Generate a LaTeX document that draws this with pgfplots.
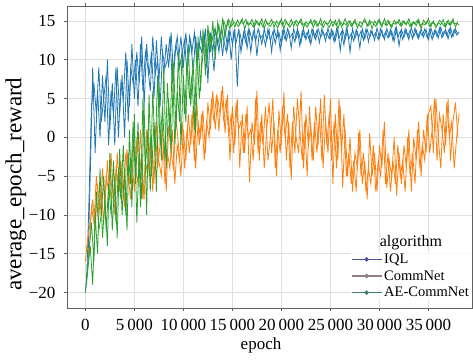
\documentclass[border=0pt]{standalone}
\usepackage{fontspec}
\setmainfont{Liberation Serif}
\usepackage{pgfplots}
\pgfplotsset{compat=1.18}
\usepackage{pgfplotstable}
\definecolor{cIQL}{HTML}{1F77B4}
\definecolor{cComm}{HTML}{FF7F0E}
\definecolor{cAE}{HTML}{2CA02C}
\definecolor{lIQL}{HTML}{4B4F9C}
\definecolor{lComm}{HTML}{8E7F86}
\definecolor{lAE}{HTML}{3F8062}

% rewards read every 250 epochs (A: epoch = 250 i, B: epoch = 250 i + 125)
\pgfplotstableread[row sep=\\]{
y\\
-20\\ -17\\ -5\\ 9\\ -2\\ 6\\ 0\\ 8\\ 2\\ 10\\ 1\\ 7\\ -1\\ 9\\ 3\\ 8\\ 0\\ 10\\ 4\\
12\\ 5\\ 11\\ 7\\ 13\\ 4\\ 12\\ 8\\ 11\\ 5\\ 12.5\\ 7\\ 13\\ 8\\
12\\ 9\\ 13.5\\ 8\\ 12\\ 10\\ 13\\ 9\\ 13.5\\ 10\\ 12.5\\ 8.5\\ 13\\ 10\\ 13.5\\
11\\ 14\\ 7\\ 13.5\\ 11\\ 14\\ 12\\ 13.5\\ 10.5\\ 14\\ 11.5\\ 13.8\\ 12\\ 14\\ 6.5\\ 13.5\\
12\\ 14\\ 11.5\\ 13.8\\ 12.5\\ 14\\ 10.5\\ 13.5\\ 12\\ 14\\ 12.5\\ 13.8\\ 11\\ 14\\ 12.8\\ 13.5\\ 12\\ 14\\ 12.5\\ 13.7\\ 11.5\\ 14\\ 12.8\\ 13.6\\ 12.2\\ 14\\ 12.6\\ 13.8\\ 12\\
13.8\\ 12.6\\ 14\\ 12.9\\ 13.6\\ 12.4\\ 14.1\\ 12.8\\ 13.7\\ 12.5\\
14\\ 11.2\\ 13.9\\ 12.6\\ 13.8\\ 11\\ 14\\ 12.8\\ 13.6\\ 11.5\\
14\\ 12.7\\ 13.9\\ 12.9\\ 13.7\\ 12.5\\ 14.1\\ 12.8\\ 13.8\\ 12.6\\
14\\ 13\\ 13.7\\ 12.4\\ 14.1\\ 11.8\\ 13.9\\ 12.9\\ 13.8\\ 12.6\\
14.2\\ 13\\ 13.8\\ 12.7\\ 14\\ 12.9\\ 13.9\\ 12.6\\ 14.1\\ 13\\
13.8\\ 12.8\\ 14.2\\ 13.1\\ 13.9\\ 12.7\\ 14.1\\ 13\\ 14\\ 13.2\\
}\iqlA
\pgfplotstableread[row sep=\\]{
y\\
-19\\ -8\\ 4\\ 7\\ 3\\ 9\\ 2\\ 5\\ 8\\ -1\\ 6\\ 3\\ 9\\ 0\\ 7\\ 5\\ 11\\ 2\\ 9\\
7\\ 10\\ 4\\ 12\\ 6\\ 11\\ 9\\ 6\\ 13\\ 8\\ 10\\ 4\\ 11\\ 9\\
10\\ 13\\ 7\\ 11\\ 13\\ 9\\ 11\\ 12.5\\ 8\\ 13\\ 11\\ 13.5\\ 9.5\\ 12\\ 11\\
13.5\\ 9\\ 13\\ 12\\ 8.5\\ 13.5\\ 11\\ 14\\ 12.5\\ 11\\ 13.8\\ 10\\ 13.5\\ 12.2\\ 13.8\\ 11\\
13.5\\ 12.2\\ 13.9\\ 11\\ 13.6\\ 12.4\\ 14\\ 12.8\\ 13.2\\ 11.8\\ 14\\ 12.4\\ 13.6\\ 12.1\\ 13.9\\ 11.2\\ 13.7\\ 12.6\\ 14\\ 12.9\\ 13.4\\ 12.3\\ 14\\ 11.8\\ 13.7\\ 12.9\\ 13.5\\ 12.4\\ 14\\
12.9\\ 13.8\\ 12.2\\ 14\\ 13.1\\ 13.5\\ 12.7\\ 13.9\\ 12.3\\ 14\\
12.8\\ 13.6\\ 11.9\\ 14.1\\ 12.7\\ 13.4\\ 12.4\\ 13.9\\ 12.9\\ 13.7\\
12.5\\ 14\\ 12.3\\ 13.8\\ 13\\ 13.5\\ 12.6\\ 14\\ 12.9\\ 13.6\\
12.8\\ 13.9\\ 12.5\\ 14.1\\ 12.9\\ 13.7\\ 12.6\\ 14\\ 13\\ 13.8\\
12.7\\ 14.1\\ 12.9\\ 13.6\\ 13.1\\ 14\\ 12.8\\ 13.9\\ 12.6\\ 13.8\\
13\\ 14.1\\ 12.8\\ 13.7\\ 13.1\\ 14\\ 12.9\\ 13.9\\ 13.2\\ 13.6\\
}\iqlB

\pgfplotstableread[row sep=\\]{
y\\
-16\\ -13\\ -11\\ -8\\ -12\\ -6\\ -10\\ -4\\ -9\\ -3\\ -8\\ -5\\ -10\\ -2\\ -7\\ -4\\ -9\\ -1.5\\ -6\\
-3\\ -7\\ 0\\ -5\\ -2\\ -8\\ 1\\ -4\\ -1\\ -6\\ 2\\ -3\\ -5\\ 0\\ -7\\ 1.5\\ -2\\ -4\\ 2.5\\ -1\\ -5\\ 1\\
-3\\ 3\\ -1\\ 4\\ -4\\ 2\\ 0\\ 3.5\\ -2\\ 4.5\\ 1\\
6\\ 1\\ 5\\ 3\\ 6.6\\ 0.5\\
5.5\\ -3\\ 4\\ -1\\ 5\\ -4\\ 3\\
-2\\ 4\\ -5.8\\ 2\\ -1\\ 6\\ -3\\ 3\\ -4\\ 1\\ 4.5\\ -2\\ 2\\ -5\\ 3.5\\ -1\\ 5.8\\ -3\\ 2\\ -5.5\\ 4\\ 0\\ -2\\ 6\\ -4\\ 3\\ -1\\ 1.5\\
-3\\ 4\\ -1\\ 5\\ -4\\ 2\\ -2\\ 5\\
-6\\ 3\\ -3\\ 4\\ -6.5\\ 1\\
-5\\ 0\\ -7\\ -2\\ -4\\ 1\\ -6\\ -3\\ -8\\ 0.5\\ -5\\ -2\\ -7\\ -1\\ -4\\ 2\\ -6.5\\ -3\\ -5\\ 0\\ -7.5\\ -2\\
-6\\ -1\\ -4\\ 1\\ -7\\ 0\\ -3\\ 2\\ -5\\ 1\\ -2\\ 3\\
4\\ -2\\ 5\\ 0\\ -4\\ 3\\ -1\\ 5\\ -3\\ 2\\ 4.5\\ 0\\
}\commA
\pgfplotstableread[row sep=\\]{
y\\
-14\\ -15\\ -9\\ -11\\ -5\\ -9\\ -7\\ -11\\ -5\\ -7\\ -2\\ -9\\ -4\\ -6\\ -3\\ -8\\ -2\\ -5\\ -8\\
0\\ -4\\ -6\\ 1\\ -8\\ -3\\ -5\\ 0\\ -7\\ 1.5\\ -4\\ -1\\ 1\\ -6\\ -2\\ -4\\ 1\\ -6\\ -1\\ -3\\ 2\\ -4\\
1\\ -2\\ 3\\ -3\\ 4.5\\ -1\\ 3\\ -3\\ 2\\ 0\\ 5\\
2\\ 5.5\\ 0.8\\ 6\\ 2\\ 5\\
0\\ 3\\ -2\\ 4.5\\ 1\\ 2\\ -2\\
3\\ 0\\ 1\\ -3\\ 5\\ -2\\ 2\\ -1\\ 4\\ -3\\ 0\\ 5\\ -4\\ 1\\ -2\\ 4\\ 0\\ 3\\ -4\\ 2\\ -2\\ 5\\ 1\\ -3\\ 2\\ -5\\ 4\\ -3\\
2\\ -2\\ 3\\ -3\\ 5.5\\ -1\\ 3\\ -3\\
2\\ -4\\ 5\\ -2\\ 3\\ -5\\
-2\\ -6\\ -3\\ -7\\ 0.6\\ -5\\ -2\\ -7\\ -4\\ -6\\ -1\\ -7\\ -3\\ -5\\ 1\\ -6\\ -2\\ -7\\ -3\\ -6\\ -1\\ -5\\
-3\\ -7\\ 0\\ -5\\ -2\\ -6\\ 1\\ -4\\ -1\\ -3\\ 3\\ -2\\
1\\ 5\\ -3\\ 3\\ 1\\ -2\\ 4.5\\ 0\\ 2\\ -4\\ 0\\ 3\\
}\commB

\pgfplotstableread[row sep=\\]{
y\\
-20\\ -17\\ -14\\ -19\\ -10\\ -15\\ -4\\ -13\\ -8\\ -14\\ -2\\ -12\\ -5\\ -13\\ -1.5\\ -10\\ -4\\ -12\\ 1\\ -9\\
3\\ -11\\ -2\\ -8\\ 4\\ -10\\ 5.5\\ -5\\ 2\\ -7\\ 7\\ -3\\ 9\\ -4\\ 5\\ -2\\ 9.5\\ 1\\ 11\\ -1\\
8\\ 2\\ 12\\ 4\\ 10\\ 0.5\\ 13\\ 6\\ 14\\ 8\\ 14.5\\ 11\\ 15\\ 10\\ 14.8\\ 12.5\\ 15.2\\ 13\\ 15\\ 14\\ 15.3\\
14.2\\ 15.1\\ 14.5\\ 15.3\\ 14.0\\ 14.9\\ 14.6\\ 15.2\\ 14.3\\ 15.0\\
14.4\\ 15.3\\ 14.1\\ 14.8\\ 14.6\\ 15.2\\ 14.2\\ 15.0\\ 14.5\\ 15.3\\
14.0\\ 14.9\\ 14.4\\ 15.2\\ 14.3\\ 15.1\\ 14.6\\ 15.3\\ 14.1\\ 14.9\\
14.5\\ 15.2\\ 14.2\\ 15.0\\ 14.4\\ 15.3\\ 14.1\\ 14.8\\ 14.6\\ 15.2\\
14.3\\ 15.1\\ 14.0\\ 14.9\\ 14.5\\ 15.3\\ 14.2\\ 15.0\\ 14.4\\ 15.2\\
14.1\\ 14.9\\ 14.6\\ 15.3\\ 14.3\\ 15.1\\ 14.0\\ 15.0\\ 14.5\\ 15.2\\
14.2\\ 15.3\\ 14.4\\ 14.9\\ 14.1\\ 15.1\\ 14.6\\ 15.2\\ 14.3\\ 15.0\\
14.5\\ 15.3\\ 14.2\\ 14.9\\ 14.4\\ 15.2\\ 14.0\\ 15.1\\ 14.6\\ 15.3\\
14.3\\ 15.0\\ 14.1\\ 14.8\\ 14.5\\ 15.2\\ 14.2\\ 15.1\\ 14.4\\ 15.3\\
14.2\\ 14.9\\
}\aeA
\pgfplotstableread[row sep=\\]{
y\\
-18\\ -15\\ -11\\ -16\\ -7\\ -12\\ -10\\ -5\\ -12\\ -6\\ -10\\ -3\\ -11\\ -4\\ -8\\ -1\\ -10\\ -2\\ -6\\ 2\\
-6\\ 2\\ -9\\ 5\\ -4\\ 1\\ -7\\ 6\\ -2\\ 8\\ -1\\ 4\\ -3\\ 7\\ 0\\ 10\\ -1\\ 6\\ 2\\ 11\\
3\\ 10\\ 5\\ 8\\ 1\\ 12\\ 5\\ 9\\ 12.5\\ 10\\ 13.5\\ 12\\ 14\\ 13\\ 14.5\\ 12\\ 15\\ 14\\ 15.2\\ 14.3\\ 14.8\\
14.7\\ 14.3\\ 15.0\\ 14.6\\ 15.2\\ 14.4\\ 14.8\\ 14.2\\ 15.1\\ 14.5\\
14.9\\ 14.2\\ 15.2\\ 14.5\\ 14.3\\ 14.9\\ 14.7\\ 14.1\\ 15.0\\ 14.4\\
15.2\\ 14.6\\ 14.2\\ 14.8\\ 14.9\\ 14.3\\ 15.0\\ 14.5\\ 14.7\\ 14.2\\
14.9\\ 14.6\\ 15.1\\ 14.3\\ 14.8\\ 14.4\\ 15.0\\ 14.6\\ 14.2\\ 14.9\\
14.8\\ 14.4\\ 15.2\\ 14.2\\ 14.7\\ 14.5\\ 15.0\\ 14.3\\ 14.9\\ 14.6\\
14.6\\ 14.2\\ 15.0\\ 14.8\\ 14.4\\ 14.9\\ 14.7\\ 14.3\\ 15.1\\ 14.5\\
14.8\\ 14.5\\ 15.1\\ 14.3\\ 14.7\\ 14.6\\ 14.9\\ 14.4\\ 15.0\\ 14.6\\
14.9\\ 14.3\\ 14.8\\ 14.6\\ 15.1\\ 14.4\\ 14.7\\ 14.5\\ 15.0\\ 14.3\\
14.8\\ 14.6\\ 14.4\\ 15.1\\ 14.7\\ 14.3\\ 14.9\\ 14.5\\ 15.0\\ 14.6\\
14.7\\ 14.5\\
}\aeB

\begin{document}
\begin{tikzpicture}
\useasboundingbox (-67pt,-51pt) rectangle (406pt,308pt);
\begin{axis}[
  name=ax,
  scale only axis, width=405pt, height=302pt,
  xmin=-1870, xmax=39440, ymin=-22, ymax=16.93,
  scaled x ticks=false,
  xtick={0,5000,10000,15000,20000,25000,30000,35000},
  xticklabels={0,5\,000,10\,000,15\,000,20\,000,25\,000,30\,000,35\,000},
  ytick={-20,-15,-10,-5,0,5,10,15},
  yticklabels={−20,−15,−10,−5,0,5,10,15},
  grid=major, grid style={gray!25, line width=0.8pt},
  axis line style={gray!75!black, line width=0.7pt},
  tick align=outside, major tick length=3pt, tick style={gray!75!black, line width=0.6pt},
  ticklabel style={font=\fontsize{17}{20}\selectfont},
  yticklabel style={xshift=-5pt},
  xticklabel style={yshift=-5pt},
  xlabel={epoch}, ylabel={average\_epoch\_reward},
  every axis x label/.style={at={(axis description cs:0.479,-0.123)},anchor=center,font=\fontsize{17}{20}\selectfont},
  every axis y label/.style={at={(axis description cs:-0.126,0.41)},rotate=90,anchor=center,font=\fontsize{23}{26}\selectfont},
  legend style={name=leg, at={(rel axis cs:1,0.022)}, anchor=south east, draw=none, fill=white, fill opacity=0.8, text opacity=1,
    font=\fontsize{14.5}{16}\selectfont, row sep=1.5pt, inner sep=1pt},
  legend cell align=left,
  legend image code/.code={\draw[mark repeat=2,mark phase=2,#1] plot coordinates {(0pt,0pt) (15pt,0pt) (30pt,0pt)};},
]
\addplot[cIQL, line width=0.8pt, forget plot] table[x expr=\coordindex*250, y=y] {\iqlA};
\addplot[cIQL, line width=0.8pt, forget plot] table[x expr=\coordindex*250+125, y=y] {\iqlB};
\addplot[cComm, line width=0.8pt, forget plot] table[x expr=\coordindex*250, y=y] {\commA};
\addplot[cComm, line width=0.8pt, forget plot] table[x expr=\coordindex*250+125, y=y] {\commB};
\addplot[cAE, line width=0.8pt, forget plot] table[x expr=\coordindex*250, y=y] {\aeA};
\addplot[cAE, line width=0.8pt, forget plot] table[x expr=\coordindex*250+125, y=y] {\aeB};
\addlegendimage{lIQL, line width=1.2pt, mark=*, mark size=1.6pt}
\addlegendentry{IQL}
\addlegendimage{lComm, line width=1.2pt, mark=*, mark size=1.6pt}
\addlegendentry{CommNet}
\addlegendimage{lAE, line width=1.2pt, mark=*, mark size=1.6pt}
\addlegendentry{AE-CommNet}
\end{axis}
\node[anchor=south, font=\fontsize{16}{18}\selectfont, inner sep=0.5pt] at (leg.north) {algorithm};
\end{tikzpicture}
\end{document}
